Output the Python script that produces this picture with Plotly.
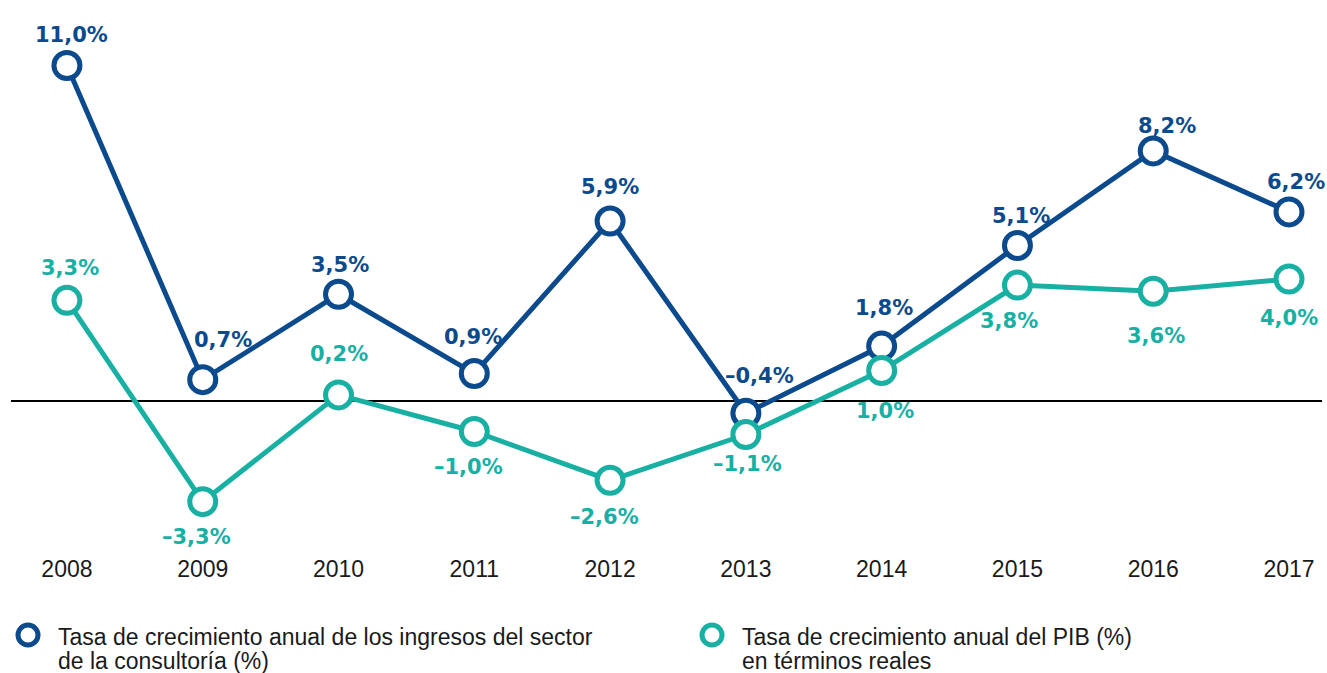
import plotly.graph_objects as go

years = ["2008", "2009", "2010", "2011", "2012", "2013", "2014", "2015", "2016", "2017"]
consultoria = [11.0, 0.7, 3.5, 0.9, 5.9, -0.4, 1.8, 5.1, 8.2, 6.2]
pib = [3.3, -3.3, 0.2, -1.0, -2.6, -1.1, 1.0, 3.8, 3.6, 4.0]

legend_consultoria = ["Tasa de crecimiento anual de los ingresos del sector", "de la consultoría (%)"]
legend_pib = ["Tasa de crecimiento anual del PIB (%)", "en términos reales"]

# label placement styles: vertical offset (px, + = above) and horizontal nudge (px)
dy_consultoria = [31, 40, 29, 37, 34, 37, 38, 29, 25, 30]
dx_consultoria = [5, 20, 1, -1, 0, 14, 2, 4, 14, 7]
dy_pib = [32, -35, 41, -35, -37, -29, -40, -36, -45, -39]
dx_pib = [3, -6, 0, -6, -6, 2, 3, -8, 3, 0]

BLUE = "#0b4a8d"
TEAL = "#19b0a4"
TXT = "#1a1a1a"

W, H = 1327, 673
ML, MR, MT, MB = 11, 5, 20, 133
PH = H - MT - MB


def py(p):
    return (H - MB - p) / PH


def px(p):
    return (p - ML) / (W - ML - MR)


def fmt(v):
    s = f"{abs(v):.1f}".replace(".", ",") + "%"
    return ("–" + s) if v < 0 else s


fig = go.Figure()
for vals, col in [(consultoria, BLUE), (pib, TEAL)]:
    fig.add_trace(go.Scatter(
        x=years, y=vals, mode="lines+markers",
        line=dict(color=col, width=5),
        marker=dict(size=26, color="white", line=dict(color=col, width=5)),
        showlegend=False, hoverinfo="skip",
    ))

annotations = []
for vals, dy, dx, col in [(consultoria, dy_consultoria, dx_consultoria, BLUE),
                          (pib, dy_pib, dx_pib, TEAL)]:
    for i, (v, a, d) in enumerate(zip(vals, dy, dx)):
        annotations.append(dict(
            x=i, y=v, xref="x", yref="y", text="<b>" + fmt(v) + "</b>", showarrow=False,
            xanchor="center", yanchor="middle", xshift=d, yshift=a,
            font=dict(family="DejaVu Sans", size=21, color=col),
        ))

# legend
for cx, lines in [(28, legend_consultoria), (712, legend_pib)]:
    for k, line in enumerate(lines):
        annotations.append(dict(
            x=px(cx + 28), y=py(637 + 24 * k), xref="paper", yref="paper", text=line,
            showarrow=False, xanchor="left", yanchor="middle", align="left",
            font=dict(family="Liberation Sans", size=23, color=TXT),
        ))

shapes = []
for cx, col in [(28, BLUE), (712, TEAL)]:
    shapes.append(dict(
        type="circle", xref="paper", yref="paper",
        xsizemode="pixel", ysizemode="pixel",
        xanchor=px(cx), yanchor=py(635),
        x0=-10, x1=10, y0=-10, y1=10,
        line=dict(color=col, width=5), fillcolor="white",
    ))

fig.update_layout(
    width=W, height=H,
    margin=dict(l=ML, r=MR, t=MT, b=MB),
    paper_bgcolor="white", plot_bgcolor="white",
    annotations=annotations, shapes=shapes,
    xaxis=dict(
        type="category", range=[-0.412, 9.243],
        showgrid=False, showline=False, zeroline=False,
        ticks="", tickfont=dict(family="Liberation Sans", size=23, color=TXT),
        ticklabelstandoff=13,
    ),
    yaxis=dict(
        range=[(401 - (H - MB)) / 30.5, (401 - MT) / 30.5],
        showgrid=False, showline=False, showticklabels=False,
        zeroline=True, zerolinecolor="black", zerolinewidth=2,
    ),
)

fig.write_html("out.html", config={"displayModeBar": False},
               post_script="document.body.style.margin='0';document.body.style.overflow='hidden';")
